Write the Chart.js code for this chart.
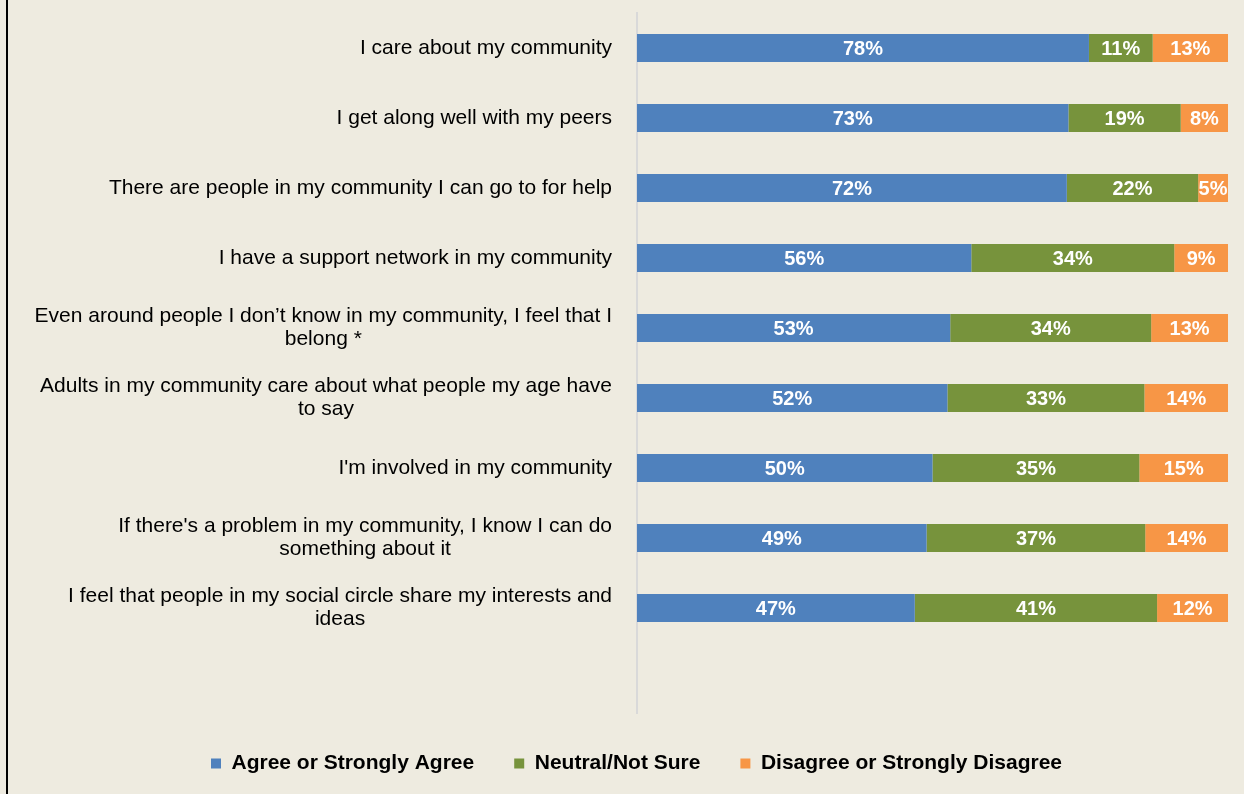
<!DOCTYPE html>
<html>
<head>
<meta charset="utf-8">
<script src="https://cdn.jsdelivr.net/npm/chart.js@4.4.1/dist/chart.umd.min.js"></script>
<style>
  body { margin: 0; background: #EEEBE0; }
  #wrap { position: relative; width: 1244px; height: 794px; background: #EEEBE0; }
  #edge { position: absolute; left: 6px; top: 0; width: 2px; height: 794px; background: #000; }
</style>
</head>
<body>
<div id="wrap">
  <canvas id="barChart" width="1244" height="794"></canvas>
  <div id="edge"></div>
</div>
<script>
// survey statements, one entry per bar (wrapped lines as arrays)
var categories = [
    ['I care about my community'],
    ['I get along well with my peers'],
    ['There are people in my community I can go to for help'],
    ['I have a support network in my community'],
    ['Even around people I don\u2019t know in my community, I feel that I', 'belong *'],
    ['Adults in my community care about what people my age have', 'to say'],
    ["I'm involved in my community"],
    ["If there's a problem in my community, I know I can do", 'something about it'],
    ['I feel that people in my social circle share my interests and', 'ideas']
];
var seriesNames = ['Agree or Strongly Agree', 'Neutral/Not Sure', 'Disagree or Strongly Disagree'];
var agree    = [78, 73, 72, 56, 53, 52, 50, 49, 47];
var neutral  = [11, 19, 22, 34, 34, 33, 35, 37, 41];
var disagree = [13,  8,  5,  9, 13, 14, 15, 14, 12];
var colors = ['#4F81BD', '#77933C', '#F79646'];

var raw = [agree, neutral, disagree];

// 100% stacked: each row is scaled by its own total
function share(arr, i) {
    var total = agree[i] + neutral[i] + disagree[i];
    return arr[i] / total * 100;
}

var datasets = raw.map(function(arr, k) {
    return {
        label: seriesNames[k],
        data: arr.map(function(v, i) { return share(arr, i); }),
        backgroundColor: colors[k],
        borderWidth: 0,
        categoryPercentage: 0.8,
        barPercentage: 0.5
    };
});

// category labels, block right-aligned to the axis, lines centered in the block
var categoryLabels = {
    id: 'categoryLabels',
    afterDraw: function(chart) {
        var ctx = chart.ctx;
        var yScale = chart.scales.y;
        var right = chart.chartArea.left - 25;
        ctx.save();
        ctx.font = '21px "Liberation Sans", Arial, sans-serif';
        ctx.fillStyle = '#000';
        ctx.textAlign = 'center';
        ctx.textBaseline = 'middle';
        categories.forEach(function(lines, i) {
            var w = 0;
            lines.forEach(function(t) { w = Math.max(w, ctx.measureText(t).width); });
            var cx = right - w / 2;
            var cy = yScale.getPixelForValue(i);
            var lh = 23;
            var y0 = cy - (lines.length - 1) * lh / 2;
            lines.forEach(function(t, j) { ctx.fillText(t, cx, y0 + j * lh); });
        });
        ctx.restore();
    }
};

// white percentage inside each segment
var segmentLabels = {
    id: 'segmentLabels',
    afterDatasetsDraw: function(chart) {
        var ctx = chart.ctx;
        ctx.save();
        ctx.font = 'bold 20px "Liberation Sans", Arial, sans-serif';
        ctx.fillStyle = '#FFFFFF';
        ctx.textAlign = 'center';
        ctx.textBaseline = 'middle';
        chart.data.datasets.forEach(function(ds, k) {
            chart.getDatasetMeta(k).data.forEach(function(bar, i) {
                var cx = (bar.x + bar.base) / 2;
                ctx.fillText(raw[k][i] + '%', cx, bar.y + 1);
            });
        });
        ctx.restore();
    }
};

new Chart(document.getElementById('barChart'), {
    type: 'bar',
    data: {
        // trailing blank slot keeps the empty band under the last bar
        labels: categories.map(function(c) { return c.join(' '); }).concat(['']),
        datasets: datasets
    },
    options: {
        indexAxis: 'y',
        responsive: false,
        animation: false,
        layout: { padding: { left: 45, right: 16, top: 13, bottom: 10 } },
        scales: {
            x: {
                stacked: true,
                min: 0,
                max: 100,
                display: false
            },
            y: {
                stacked: true,
                grid: { display: false },
                border: { display: true, color: '#D9D9D9', width: 2 },
                ticks: { display: false },
                afterFit: function(scale) { scale.width = 592; }
            }
        },
        plugins: {
            legend: {
                position: 'bottom',
                labels: {
                    boxWidth: 10,
                    boxHeight: 10,
                    padding: 40,
                    color: '#000',
                    font: { family: '"Liberation Sans", Arial, sans-serif', size: 21, weight: 'bold' }
                }
            },
            tooltip: { enabled: false }
        }
    },
    plugins: [categoryLabels, segmentLabels]
});
</script>
</body>
</html>
